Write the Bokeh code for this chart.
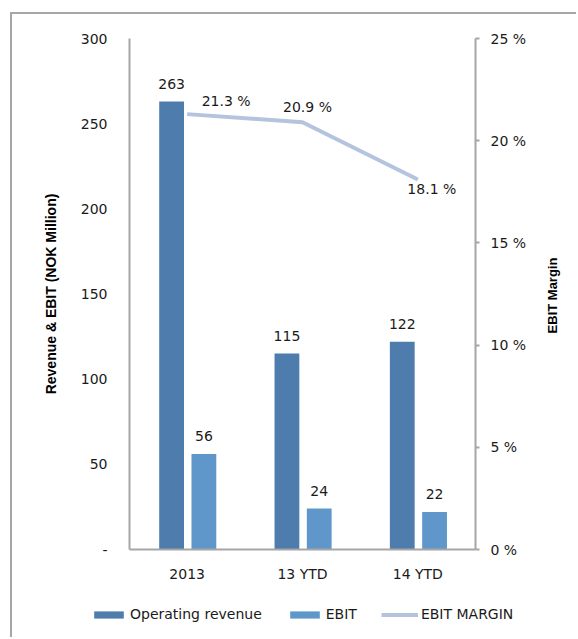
from bokeh.plotting import figure
from bokeh.layouts import column, row
from bokeh.models import (ColumnDataSource, Range1d, LinearAxis, FactorRange, Legend,
                          LegendItem, PrintfTickFormatter, FixedTicker, CDSView, IndexFilter)
from bokeh.transform import dodge
from bokeh.core.properties import value
from bokeh.embed import file_html
from bokeh.resources import INLINE
import math

# ---------------- data ----------------
categories = ["2013", "13 YTD", "14 YTD"]
operating_revenue = [263, 115, 122]
ebit = [56, 24, 22]
ebit_margin = [21.3, 20.9, 18.1]
margin_labels = ["21.3 %", "20.9 %", "18.1 %"]
left_ticks = [0, 50, 100, 150, 200, 250, 300]
right_ticks = [0, 5, 10, 15, 20, 25]
legend_labels = ["Operating revenue", "EBIT", "EBIT MARGIN"]
left_title = "Revenue & EBIT (NOK Million)"
right_title = "EBIT Margin"

# ---------------- styles ----------------
REV_COLOR = "#4E7DAD"
EBIT_COLOR = "#5F97CB"
LINE_COLOR = "#B4C4DF"
AXIS_COLOR = "#A6A6A6"
TEXT_COLOR = "#1a1a1a"
FONT = "DejaVu Sans"
TITLE_FONT = "Liberation Sans"
FS = "14px"
REV_DODGE = -0.135
EBIT_DODGE = 0.145
BAR_W = 0.215
# (x_offset, y_offset) in screen px for the margin labels
margin_label_offsets = [(39, -13), (5, -15), (14, 9)]

src = ColumnDataSource(dict(
    cat=categories,
    rev=operating_revenue,
    ebit=ebit,
    margin=ebit_margin,
    mlabel=margin_labels,
    revlabel=[str(v) for v in operating_revenue],
    ebitlabel=[str(v) for v in ebit],
))

p = figure(x_range=FactorRange(*categories), y_range=Range1d(0, 300),
           width=523, height=576, output_backend="svg", toolbar_location=None,
           min_border_left=117, min_border_right=60, min_border_top=24,
           min_border_bottom=41)
p.outline_line_color = None
p.xgrid.visible = False
p.ygrid.visible = False
p.extra_y_ranges = {"pct": Range1d(0, 25)}

# left axis
ly = p.yaxis[0]
ly.ticker = FixedTicker(ticks=left_ticks)
ly.major_label_overrides = {0: "-"}
ly.major_tick_in = 0
ly.major_tick_out = 0
ly.minor_tick_in = 0
ly.minor_tick_out = 0
ly.major_label_standoff = 22
ly.axis_line_color = AXIS_COLOR
ly.axis_line_width = 2
ly.major_label_text_font = FONT
ly.major_label_text_font_size = FS
ly.major_label_text_color = TEXT_COLOR
ly.axis_label = left_title
ly.axis_label_text_font = TITLE_FONT
ly.axis_label_text_font_style = "bold"
ly.axis_label_text_font_size = "14px"
ly.axis_label_text_color = "#000000"
ly.axis_label_standoff = 19

# right axis
ry = LinearAxis(y_range_name="pct", ticker=FixedTicker(ticks=right_ticks),
                formatter=PrintfTickFormatter(format="%d %%"))
ry.major_tick_in = 0
ry.major_tick_out = 4
ry.major_tick_line_color = AXIS_COLOR
ry.major_tick_line_width = 2
ry.minor_tick_in = 0
ry.minor_tick_out = 0
ry.major_label_standoff = 11
ry.axis_line_color = AXIS_COLOR
ry.axis_line_width = 2
ry.major_label_text_font = FONT
ry.major_label_text_font_size = FS
ry.major_label_text_color = TEXT_COLOR
p.add_layout(ry, "right")

# bottom axis
bx = p.xaxis[0]
bx.major_tick_in = 0
bx.major_tick_out = 0
bx.major_label_standoff = 16
bx.axis_line_color = AXIS_COLOR
bx.axis_line_width = 2
bx.major_label_text_font = FONT
bx.major_label_text_font_size = FS
bx.major_label_text_color = TEXT_COLOR

# bars & line
p.vbar(x=dodge("cat", REV_DODGE, range=p.x_range), top="rev", width=BAR_W,
       source=src, fill_color=REV_COLOR, line_color=None)
p.vbar(x=dodge("cat", EBIT_DODGE, range=p.x_range), top="ebit", width=BAR_W,
       source=src, fill_color=EBIT_COLOR, line_color=None)
p.line(x="cat", y="margin", source=src, y_range_name="pct",
       line_color=LINE_COLOR, line_width=4)

# value labels
p.text(x=dodge("cat", REV_DODGE, range=p.x_range), y="rev", text="revlabel", source=src,
       text_align="center", text_baseline="alphabetic", y_offset=-18,
       text_font=value(FONT), text_font_size=FS, text_color=TEXT_COLOR)
p.text(x=dodge("cat", EBIT_DODGE, range=p.x_range), y="ebit", text="ebitlabel", source=src,
       text_align="center", text_baseline="alphabetic", y_offset=-18,
       text_font=value(FONT), text_font_size=FS, text_color=TEXT_COLOR)
for i, (dx, dy) in enumerate(margin_label_offsets):
    p.text(x="cat", y="margin", text="mlabel", source=src, view=CDSView(filter=IndexFilter([i])),
           y_range_name="pct", text_align="center", text_baseline="alphabetic",
           x_offset=dx, y_offset=dy,
           text_font=value(FONT), text_font_size=FS, text_color=TEXT_COLOR)

# ---------------- right-hand axis title (narrow strip, reads bottom-to-top) ----------------
tf = figure(width=34, height=576, output_backend="svg", toolbar_location=None,
            x_range=Range1d(0, 1), y_range=Range1d(0, 1),
            x_axis_type=None, y_axis_type=None,
            min_border_left=0, min_border_right=0, min_border_top=0, min_border_bottom=0)
tf.frame_align = False
tf.outline_line_color = None
tf.xgrid.visible = False
tf.ygrid.visible = False
tf.text(x=[0.5], y=[0.5], text=[right_title], angle=math.pi / 2,
        text_align="center", text_baseline="middle", y_offset=-7,
        text_font=value(TITLE_FONT), text_font_style="bold", text_font_size="13px",
        text_color="#000000")

# ---------------- legend strip (separate figure below the chart) ----------------
pl = figure(width=564, height=47, output_backend="svg", toolbar_location=None,
            x_range=Range1d(0, 1), y_range=Range1d(0, 1),
            x_axis_type=None, y_axis_type=None,
            min_border_left=0, min_border_right=0, min_border_top=0, min_border_bottom=0)
pl.frame_align = False
pl.outline_line_color = None
pl.xgrid.visible = False
pl.ygrid.visible = False
# legend proxies: placed outside the visible range so only the legend swatches show
proxy = ColumnDataSource(dict(x=[-5, -6], y=[-5, -6]))
lr_rev = pl.vbar(x="x", top="y", width=0.1, source=proxy, fill_color=REV_COLOR, line_color=None)
lr_ebit = pl.vbar(x="x", top="y", width=0.1, source=proxy, fill_color=EBIT_COLOR, line_color=None)
lr_line = pl.line(x="x", y="y", source=proxy, line_color=LINE_COLOR, line_width=4)

legend = Legend(items=[
    LegendItem(label=legend_labels[0], renderers=[lr_rev]),
    LegendItem(label=legend_labels[1], renderers=[lr_ebit]),
    LegendItem(label=legend_labels[2], renderers=[lr_line]),
], orientation="horizontal", location=(78, 15))
legend.glyph_width = 37
legend.glyph_height = 9
legend.label_height = 16
legend.label_standoff = 3
legend.spacing = 24
legend.padding = 0
legend.margin = 0
legend.border_line_color = None
legend.background_fill_alpha = 0
legend.label_text_font = FONT
legend.label_text_font_size = FS
legend.label_text_color = TEXT_COLOR
pl.add_layout(legend, "center")

layout = column(row(p, tf, spacing=0), pl, spacing=0)
layout.margin = (12, 0, 0, 10)
layout.styles = {"border-left": f"2px solid {AXIS_COLOR}", "border-top": f"2px solid {AXIS_COLOR}"}

open("out.html", "w").write(file_html(layout, INLINE))
